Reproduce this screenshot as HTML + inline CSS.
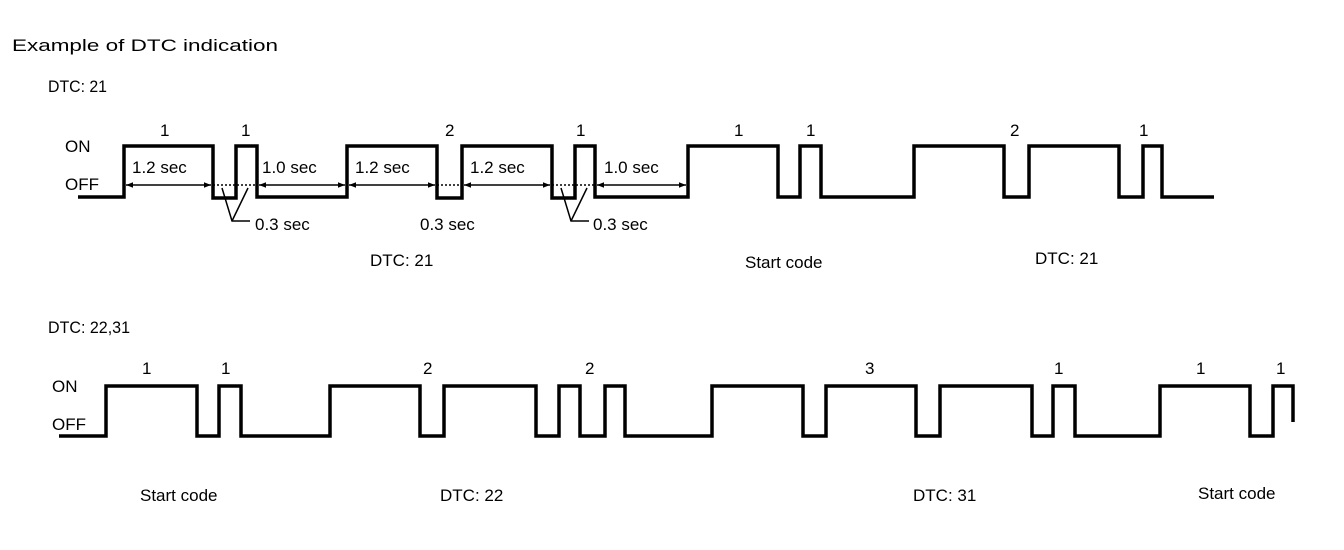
<!DOCTYPE html>
<html><head><meta charset="utf-8"><style>
html,body{margin:0;padding:0;background:#fff}
svg{display:block}
text{font-family:"Liberation Sans",sans-serif;font-size:17px;fill:#000}
</style></head><body>
<svg width="1344" height="550" viewBox="0 0 1344 550" xmlns="http://www.w3.org/2000/svg">
<defs>
<marker id="a" viewBox="0 0 10 10" refX="10" refY="5" markerWidth="9" markerHeight="7" orient="auto-start-reverse" markerUnits="userSpaceOnUse"><path d="M0,1 L10,5 L0,9 z" fill="#000"/></marker>
</defs>
<text x="12" y="51" textLength="266" lengthAdjust="spacingAndGlyphs">Example of DTC indication</text>
<text x="48" y="92" textLength="59" lengthAdjust="spacingAndGlyphs">DTC: 21</text>
<text x="48" y="333" textLength="82" lengthAdjust="spacingAndGlyphs">DTC: 22,31</text>

<!-- top waveform -->
<text x="65" y="152">ON</text>
<text x="65" y="190">OFF</text>
<polyline fill="none" stroke="#000" stroke-width="3.5" points="78,197 124,197 124,146 213,146 213,198 236,198 236,146 257,146 257,197 347,197 347,146 437,146 437,198 462,198 462,146 552,146 552,198 575,198 575,146 595,146 595,197 688,197 688,146 778,146 778,197 800,197 800,146 821,146 821,197 914,197 914,146 1004,146 1004,197 1029,197 1029,146 1119,146 1119,197 1143,197 1143,146 1162,146 1162,197 1214,197"/>
<g stroke="#000" stroke-width="1.5" fill="none">
<line x1="126" y1="185" x2="211" y2="185" marker-start="url(#a)" marker-end="url(#a)"/>
<line x1="259" y1="185" x2="345" y2="185" marker-start="url(#a)" marker-end="url(#a)"/>
<line x1="349" y1="185" x2="435" y2="185" marker-start="url(#a)" marker-end="url(#a)"/>
<line x1="464" y1="185" x2="550" y2="185" marker-start="url(#a)" marker-end="url(#a)"/>
<line x1="597" y1="185" x2="686" y2="185" marker-start="url(#a)" marker-end="url(#a)"/>
<line x1="213" y1="185" x2="257" y2="185" stroke-dasharray="2,2"/>
<line x1="437" y1="185" x2="462" y2="185" stroke-dasharray="2,2"/>
<line x1="552" y1="185" x2="595" y2="185" stroke-dasharray="2,2"/>
<polyline points="222,188 232,221 250,221"/>
<line x1="248" y1="188" x2="232" y2="221"/>
<polyline points="561,188 571,221 589,221"/>
<line x1="587" y1="188" x2="571" y2="221"/>
</g>
<g fill="#fff"><rect x="128" y="154" width="80" height="24"/><rect x="260" y="154" width="82" height="24"/><rect x="350" y="154" width="82" height="24"/><rect x="466" y="154" width="82" height="24"/><rect x="598" y="154" width="84" height="24"/></g>
<text x="132" y="173">1.2 sec</text>
<text x="262" y="173">1.0 sec</text>
<text x="355" y="173">1.2 sec</text>
<text x="470" y="173">1.2 sec</text>
<text x="604" y="173">1.0 sec</text>
<text x="255" y="230">0.3 sec</text>
<text x="420" y="230">0.3 sec</text>
<text x="593" y="230">0.3 sec</text>
<text x="160" y="136">1</text><text x="241" y="136">1</text><text x="445" y="136">2</text><text x="576" y="136">1</text>
<text x="734" y="136">1</text><text x="806" y="136">1</text><text x="1010" y="136">2</text><text x="1139" y="136">1</text>
<text x="370" y="266">DTC: 21</text>
<text x="745" y="268">Start code</text>
<text x="1035" y="264">DTC: 21</text>

<!-- bottom waveform -->
<text x="52" y="392">ON</text>
<text x="52" y="430">OFF</text>
<polyline fill="none" stroke="#000" stroke-width="3.5" points="59,436 106,436 106,386 197,386 197,436 219,436 219,386 241,386 241,436 330,436 330,386 420,386 420,436 444,436 444,386 536,386 536,436 559,436 559,386 580,386 580,436 605,436 605,386 625,386 625,436 712,436 712,386 803,386 803,436 826,436 826,386 916,386 916,436 940,436 940,386 1032,386 1032,436 1053,436 1053,386 1075,386 1075,436 1160,436 1160,386 1250,386 1250,436 1273,436 1273,386 1293,386 1293,422"/>
<text x="142" y="374">1</text><text x="221" y="374">1</text><text x="423" y="374">2</text><text x="585" y="374">2</text>
<text x="865" y="374">3</text><text x="1054" y="374">1</text><text x="1196" y="374">1</text><text x="1276" y="374">1</text>
<text x="140" y="501">Start code</text>
<text x="440" y="501">DTC: 22</text>
<text x="913" y="501">DTC: 31</text>
<text x="1198" y="499">Start code</text>
</svg>
</body></html>
